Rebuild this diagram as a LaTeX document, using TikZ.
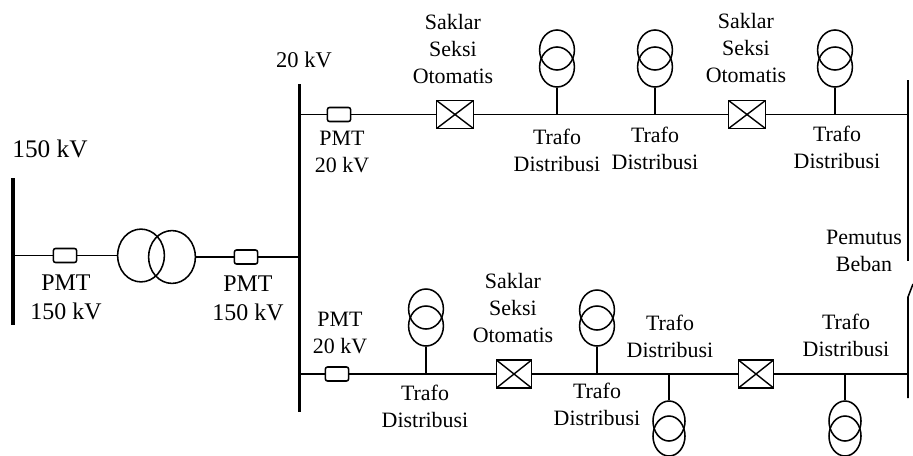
\documentclass[tikz,border=0pt]{standalone}
\usepackage{fontspec}
\setmainfont{Liberation Serif}
\usepackage{tikz}
\usetikzlibrary{arrows,shapes,positioning,calc}

\begin{document}
\begin{tikzpicture}[
    x=0.025cm, y=-0.025cm,
    wire/.style={draw, line width=1.1pt},
    busbar/.style={draw, line width=2.8pt},
    breaker/.style={rectangle, draw, line width=1.1pt, rounded corners=1.5pt, minimum width=0.58cm, minimum height=0.35cm, inner sep=0pt},
    sectionbox/.style={rectangle, draw, line width=1.2pt, minimum width=0.92cm, minimum height=0.7cm, inner sep=0pt,
        path picture={\draw[line width=1pt] (path picture bounding box.north west) -- (path picture bounding box.south east) (path picture bounding box.south west) -- (path picture bounding box.north east);}},
    coil/.style={ellipse, draw, line width=1.1pt, minimum width=0.87cm, minimum height=1cm, inner sep=0pt},
    bigcoil/.style={ellipse, draw, line width=1.1pt, minimum width=1.17cm, minimum height=1.32cm, inner sep=0pt},
    label/.style={align=center, inner sep=0pt, font=\fontsize{15.6}{19.2}\selectfont},
    biglabel/.style={align=center, inner sep=0pt, font=\fontsize{17}{20.6}\selectfont}
]
\useasboundingbox (0,0) rectangle (913,455);

% Draw busbars
\coordinate (hvtop) at (13,178);
\coordinate (hvend) at (13,325);
\coordinate (mvtop) at (299.5,84);
\coordinate (mvend) at (299.5,412);
\coordinate (loadtop) at (908,80);
\coordinate (loadgap) at (908,261);
\coordinate (loadlow) at (908,297);
\coordinate (loadblade) at (913,284);
\coordinate (loadend) at (908,398);
\draw[busbar] (hvtop) -- (hvend);
\draw[busbar] (mvtop) -- (mvend);
\draw[wire] (loadtop) -- (loadgap);
\draw[wire] (loadblade) -- (loadlow) -- (loadend);

% Draw incoming side
\coordinate (hvtap) at (13,255.5);
\coordinate (mvtap) at (299.5,257);
\node[breaker] (pmthv) at (65,255.5) {};
\node[bigcoil] (gridA) at (141,255.5) {};
\node[bigcoil] (gridB) at (172,257) {};
\node[breaker] (pmtmv) at (246,257) {};
\draw[wire] (hvtap) -- (pmthv);
\draw[wire] (pmthv) -- (gridA);
\draw[wire] (gridB) -- (pmtmv);
\draw[wire] (pmtmv) -- (mvtap);

\node[label, font=\fontsize{18}{22}\selectfont] (hvname) at (50,149) {150 kV};
\node[label, font=\fontsize{16}{20}\selectfont] (mvname) at (304,60) {20 kV};
\node[biglabel] (pmthvtext) at (66,297) {PMT\\150 kV};
\node[biglabel] (pmtmvtext) at (248,298) {PMT\\150 kV};

% Draw upper feeder
\coordinate (upstart) at (299.5,114.5);
\coordinate (upend) at (908,114.5);
\coordinate (uptapA) at (557,114.5);
\coordinate (uptapB) at (655,114.5);
\coordinate (uptapC) at (835,114.5);
\node[breaker] (pmtup) at (339,114.5) {};
\node[sectionbox] (swupA) at (455,114.5) {};
\node[sectionbox] (swupB) at (747,114.5) {};
\draw[wire] (upstart) -- (pmtup);
\draw[wire] (pmtup) -- (swupA);
\draw[wire] (swupA) -- (swupB);
\draw[wire] (swupB) -- (upend);

\node[coil] (upAtop) at (557,50) {};
\node[coil] (upAlow) at (557,67) {};
\node[coil] (upBtop) at (655,50) {};
\node[coil] (upBlow) at (655,67) {};
\node[coil] (upCtop) at (835,50) {};
\node[coil] (upClow) at (835,67) {};
\draw[wire] (upAlow) -- (uptapA);
\draw[wire] (upBlow) -- (uptapB);
\draw[wire] (upClow) -- (uptapC);

\node[label] (pmtuptext) at (342,151.5) {PMT\\20 kV};
\node[label] (swupAtext) at (453,49) {Saklar\\Seksi\\Otomatis};
\node[label] (swupBtext) at (746,47.5) {Saklar\\Seksi\\Otomatis};
\node[label] (upAtext) at (557,150) {Trafo\\Distribusi};
\node[label] (upBtext) at (655,148) {Trafo\\Distribusi};
\node[label] (upCtext) at (837,147) {Trafo\\Distribusi};
\node[label] (cuttext) at (864,251) {Pemutus\\Beban};

% Draw lower feeder
\coordinate (lowstart) at (299.5,374);
\coordinate (lowend) at (908,374);
\coordinate (lowtapA) at (426,374);
\coordinate (lowtapB) at (597,374);
\coordinate (lowtapC) at (669,374);
\coordinate (lowtapD) at (845,374);
\node[breaker] (pmtlow) at (337,374) {};
\node[sectionbox, minimum width=0.88cm] (swlowA) at (514,374) {};
\node[sectionbox, minimum width=0.88cm] (swlowB) at (756,374) {};
\draw[wire] (lowstart) -- (pmtlow);
\draw[wire] (pmtlow) -- (swlowA);
\draw[wire] (swlowA) -- (swlowB);
\draw[wire] (swlowB) -- (lowend);

\node[coil] (lowAtop) at (426,309) {};
\node[coil] (lowAlow) at (426,326) {};
\node[coil] (lowBtop) at (597,310) {};
\node[coil] (lowBlow) at (597,326) {};
\node[coil, minimum width=0.8cm] (lowClow) at (669,436) {};
\node[coil, minimum width=0.8cm] (lowCtop) at (669,421) {};
\node[coil, minimum width=0.8cm] (lowDlow) at (845,436) {};
\node[coil, minimum width=0.8cm] (lowDtop) at (845,421) {};
\draw[wire] (lowAlow) -- (lowtapA);
\draw[wire] (lowBlow) -- (lowtapB);
\draw[wire] (lowtapC) -- (lowCtop);
\draw[wire] (lowtapD) -- (lowDtop);

\node[label] (pmtlowtext) at (340,333) {PMT\\20 kV};
\node[label] (swlowtext) at (513,308) {Saklar\\Seksi\\Otomatis};
\node[label] (lowAtext) at (425,406) {Trafo\\Distribusi};
\node[label] (lowBtext) at (597,404) {Trafo\\Distribusi};
\node[label] (lowCtext) at (670,336) {Trafo\\Distribusi};
\node[label] (lowDtext) at (846,335) {Trafo\\Distribusi};

\end{tikzpicture}
\end{document}
